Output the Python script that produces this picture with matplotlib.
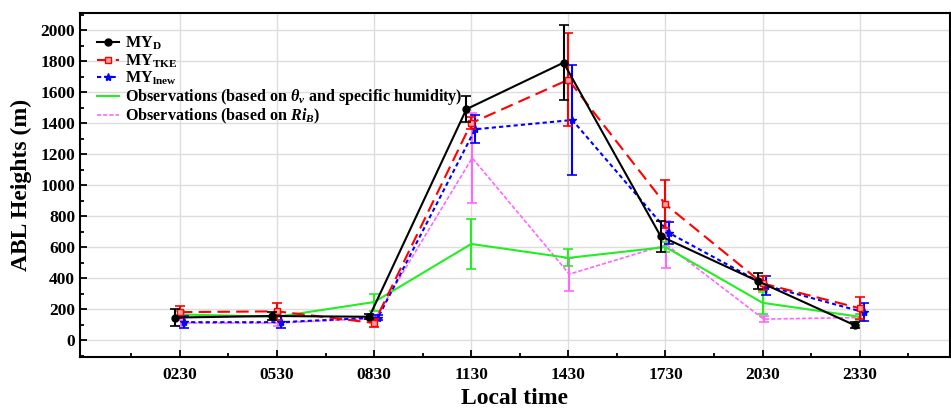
import numpy as np
import matplotlib
matplotlib.use('Agg')
import matplotlib.pyplot as plt
from matplotlib.ticker import MultipleLocator

plt.rcParams['font.family'] = ['Liberation Serif', 'DejaVu Serif']
plt.rcParams['font.weight'] = 'bold'
plt.rcParams['mathtext.fontset'] = 'custom'
plt.rcParams['mathtext.rm'] = 'Liberation Serif:bold'
plt.rcParams['mathtext.it'] = 'Liberation Serif:italic:bold'
plt.rcParams['mathtext.bf'] = 'Liberation Serif:bold'

# Data
times = ['0230', '0530', '0830', '1130', '1430', '1730', '2030', '2330']

my_d = [145, 155, 150, 1490, 1790, 670, 380, 95]
my_d_err = [55, 25, 15, 85, 240, 100, 50, 20]

my_tke = [180, 185, 110, 1400, 1680, 875, 365, 205]
my_tke_err = [40, 55, 25, 40, 300, 155, 45, 70]

my_lnew = [115, 115, 145, 1360, 1420, 690, 350, 180]
my_lnew_err = [40, 40, 15, 90, 355, 70, 60, 60]

obs_theta = [165, 150, 245, 620, 530, 600, 240, 150]
obs_theta_err = [20, 20, 55, 160, 55, 30, 70, 20]

obs_rib = [110, 110, 140, 1175, 425, 615, 135, 145]
obs_rib_err = [20, 20, 20, 290, 107, 150, 20, 20]

x = np.arange(len(times))

fig = plt.figure(figsize=(9.51, 4.09), dpi=100)
ax = fig.add_axes([0.084, 0.127, 0.915, 0.841])

# small horizontal shifts so the error bars do not overlap
e1 = ax.errorbar(x - 0.05, my_d, yerr=my_d_err, color='black', lw=1.5, marker='o', ms=5,
                 capsize=3.5, elinewidth=1.5, capthick=1.2, zorder=5)
e2 = ax.errorbar(x, my_tke, yerr=my_tke_err, color='red', lw=1.5, ls=(0, (6, 3)), marker='s', ms=5,
                 mfc='#ff9f9f', mec='red', capsize=3.5, elinewidth=1.5, capthick=1.2, zorder=4)
e3 = ax.errorbar(x + 0.04, my_lnew, yerr=my_lnew_err, color='blue', lw=1.5, ls=(0, (2, 1.5)),
                 marker='*', ms=6, capsize=3.5, elinewidth=1.5, capthick=1.2, zorder=3)
e4 = ax.errorbar(x, obs_theta, yerr=obs_theta_err, color='#22ee22', lw=1.5, capsize=3.5,
                 elinewidth=1.5, capthick=1.2, zorder=2)
e5 = ax.errorbar(x + 0.01, obs_rib, yerr=obs_rib_err, color='#ff66ff', lw=1.2, ls=(0, (2.5, 1.2)),
                 capsize=3.5, elinewidth=1.5, capthick=1.2, zorder=1)

labels = [r'MY$_{\mathrm{D}}$', r'MY$_{\mathrm{TKE}}$', r'MY$_{\mathrm{lnew}}$',
          r'Observations (based on $\theta_v$ and specific humidity)',
          r'Observations (based on $Ri_B$)']

ax.set_xlim(-1.03, 7.93)
ax.set_ylim(-110, 2110)
ax.set_xticks(x)
ax.set_xticklabels(times)
ax.set_xticks(np.arange(-0.5, 8, 1), minor=True)
ax.yaxis.set_major_locator(MultipleLocator(200))
ax.yaxis.set_minor_locator(MultipleLocator(100))

ax.tick_params(axis='both', which='both', direction='in', width=1.3)
ax.tick_params(axis='both', which='major', length=5, labelsize=12.5)
ax.tick_params(axis='x', which='major', pad=7)
ax.tick_params(axis='both', which='minor', length=3)
for lab in ax.get_xticklabels() + ax.get_yticklabels():
    lab.set_fontweight('bold')
for sp in ax.spines.values():
    sp.set_linewidth(1.5)

ax.grid(True, which='major', color='#dddddd', lw=1)
ax.set_axisbelow(True)

ax.set_xlabel('Local time', fontsize=17, fontweight='bold', labelpad=4)
ax.set_ylabel('ABL Heights (m)', fontsize=17, fontweight='bold', labelpad=6)

ax.legend([e[0] for e in (e1, e2, e3, e4, e5)], labels,
          loc='upper left', bbox_to_anchor=(0.012, 0.955), frameon=False,
          handlelength=1.4, borderaxespad=0.0, labelspacing=0.0, handletextpad=0.35,
          prop={'weight': 'bold', 'size': 11.6})

fig.savefig('out.png', dpi=100)
